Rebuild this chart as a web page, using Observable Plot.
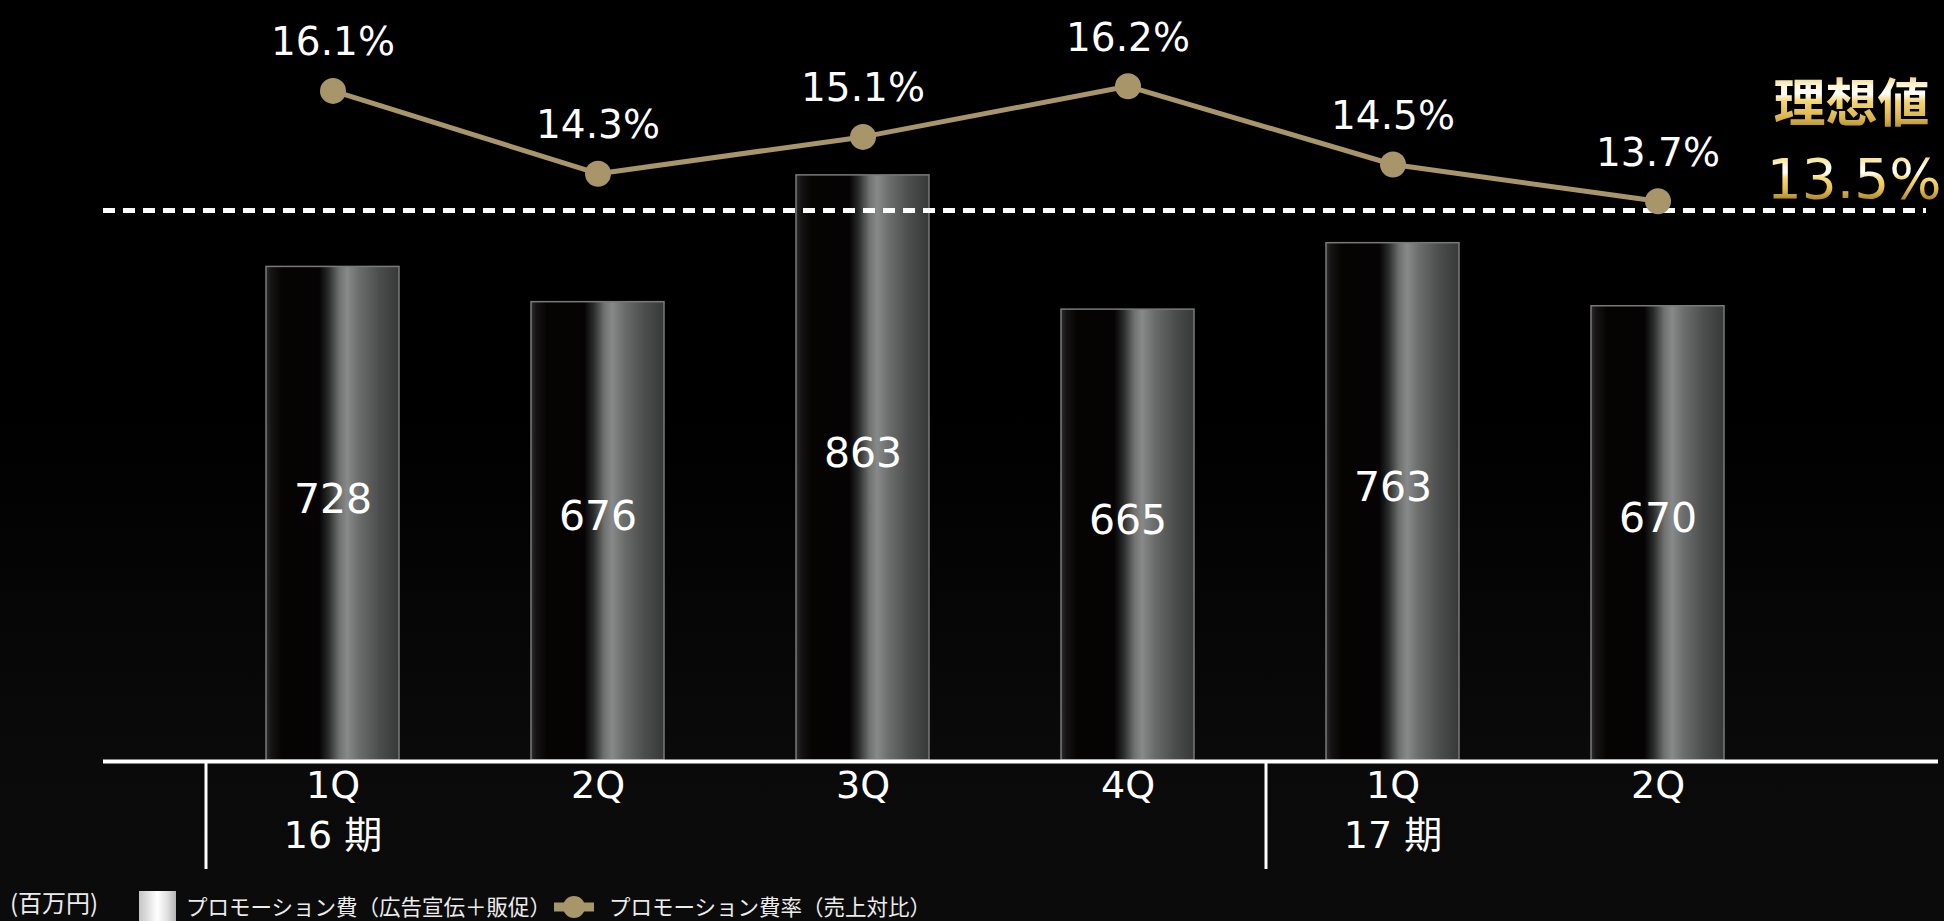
<!DOCTYPE html>
<html>
<head>
<meta charset="utf-8">
<script src="https://cdn.jsdelivr.net/npm/d3@7"></script>
<script src="https://cdn.jsdelivr.net/npm/@observablehq/plot@0.6"></script>
<style>
  html, body { margin: 0; padding: 0; background: #000; }
  #wrap { position: relative; width: 1944px; height: 921px; overflow: hidden;
    background: linear-gradient(to bottom, #000 0%, #000 45%, #0a0a0a 82%, #0b0b0b 100%); }
  #wrap > svg { position: absolute; left: 0; top: 0; }
  .lg { position: absolute; color: #ececec; font-family: "Noto Sans CJK JP", sans-serif; white-space: nowrap; line-height: 1.1; }
</style>
</head>
<body>
<div id="wrap"></div>
<script>
// ---- data ----
const quarters = ["1Q", "2Q", "3Q", "4Q", "1Q", "2Q"];
const periods = ["16 期", "16 期", "16 期", "16 期", "17 期", "17 期"];
const promoCost = [728, 676, 863, 665, 763, 670];       // 百万円
const promoRate = [16.1, 14.3, 15.1, 16.2, 14.5, 13.7]; // %
const idealRate = 13.5;
const idealLabel = "理想値";
const unitLabel = "(百万円)";
const seriesNames = ["プロモーション費（広告宣伝＋販促）", "プロモーション費率（売上対比）"];

const data = quarters.map((q, i) => ({
  id: periods[i] + "-" + q, quarter: q, period: periods[i],
  cost: promoCost[i], rate: promoRate[i]
}));
const periodStarts = d3.groups(data, d => d.period).map(([p, rows]) => ({period: p, id: rows[0].id}));
const ids = data.map(d => d.id);

// ---- layout ----
const W = 1944, H = 890, mTop = 82, mBottom = 130, mLeft = 103, mRight = 6;
const xScale = {type: "band", domain: ids, range: [199.5, 1789.5], paddingInner: 0.5, paddingOuter: 0.25, axis: null};
const numFont = "DejaVu Sans, Noto Sans CJK JP, sans-serif";
const gold = "#a8956a";

const wrap = document.getElementById("wrap");

// ---- bars plot ----
const svg1 = Plot.plot({
  width: W, height: H, marginTop: mTop, marginBottom: mBottom, marginLeft: mLeft, marginRight: mRight,
  style: {background: "transparent", color: "white", overflow: "visible"},
  x: xScale,
  y: {domain: [0, 1000], axis: null},
  marks: [
    Plot.barY(data, {x: "id", y: "cost", fill: "url(#barGrad)", stroke: "#7a7a7a", strokeWidth: 1.5}),
    Plot.text(data, {x: "id", y: d => d.cost / 2, text: d => String(d.cost), fill: "white",
      fontSize: 41, fontFamily: numFont, dy: -14}),
    Plot.ruleY([0], {stroke: "white", strokeWidth: 4, dy: 1}),
    Plot.ruleX(periodStarts, {x: "id", dx: -127, stroke: "white", strokeWidth: 3, insetTop: 681, insetBottom: -109}),
    Plot.text(data, {x: "id", frameAnchor: "bottom", text: "quarter", dy: 37, fill: "white",
      fontSize: 38, fontFamily: numFont}),
    Plot.text(periodStarts, {x: "id", frameAnchor: "bottom", text: "period", dy: 87, fill: "white",
      fontSize: 38, fontFamily: numFont})
  ]
});
wrap.appendChild(svg1);

const defs1 = d3.select(svg1).insert("defs", ":first-child");
const bg = defs1.append("linearGradient").attr("id", "barGrad").attr("x1", 0).attr("y1", 0).attr("x2", 1).attr("y2", 0);
[[0, "#2e2e2e"], [0.04, "#151313"], [0.12, "#060303"], [0.40, "#050303"], [0.47, "#2a2b2b"],
 [0.55, "#6e716f"], [0.61, "#878a88"], [0.70, "#6a6d6b"], [0.85, "#4b4e4c"], [1, "#363937"]]
  .forEach(([o, c]) => bg.append("stop").attr("offset", o).attr("stop-color", c));

// ---- rate plot (overlay, own y scale) ----
const svg2 = Plot.plot({
  width: W, height: H, marginTop: mTop, marginBottom: mBottom, marginLeft: mLeft, marginRight: mRight,
  style: {background: "transparent", color: "white", overflow: "visible"},
  x: xScale,
  y: {domain: [1.5435, 16.2826], axis: null},
  marks: [
    Plot.ruleY([idealRate], {stroke: "white", strokeWidth: 5, strokeDasharray: "12,8", insetRight: 12}),
    Plot.line(data, {x: "id", y: "rate", stroke: gold, strokeWidth: 5}),
    Plot.dot(data, {x: "id", y: "rate", r: 13, fill: gold, stroke: "none"}),
    Plot.text(data, {x: "id", y: "rate", text: d => d.rate.toFixed(1) + "%", dy: -48, fill: "white",
      fontSize: 39, fontFamily: numFont}),
    Plot.text([idealRate], {y: d => d, frameAnchor: "right", textAnchor: "end", dx: 3, dy: -30,
      text: d => d.toFixed(1) + "%", fill: "url(#goldNum)", fontSize: 55, fontFamily: numFont}),
    Plot.text([idealRate], {y: d => d, frameAnchor: "right", textAnchor: "end", dx: -9, dy: -105,
      text: () => idealLabel, fill: "url(#goldJp)", fontSize: 52, fontWeight: "bold",
      fontFamily: "Noto Sans CJK JP, sans-serif"})
  ]
});
wrap.appendChild(svg2);

const defs2 = d3.select(svg2).insert("defs", ":first-child");
const gn = defs2.append("linearGradient").attr("id", "goldNum").attr("x1", 0).attr("y1", 0).attr("x2", 0).attr("y2", 1);
[[0.15, "#f5e08a"], [0.32, "#fffbe6"], [0.40, "#ffffff"], [0.48, "#f7dc78"], [0.65, "#e6c052"], [0.80, "#b48e30"]]
  .forEach(([o, c]) => gn.append("stop").attr("offset", o).attr("stop-color", c));
const gj = defs2.append("linearGradient").attr("id", "goldJp").attr("x1", 0).attr("y1", 0).attr("x2", 0).attr("y2", 1);
[[0.1, "#e0bc52"], [0.32, "#fff7d8"], [0.42, "#ffffff"], [0.52, "#f3d678"], [0.75, "#dab44a"], [0.92, "#a4802a"]]
  .forEach(([o, c]) => gj.append("stop").attr("offset", o).attr("stop-color", c));

// ---- legend (below the SVG) ----
function addLg(txt, left, top, size) {
  const s = document.createElement("div");
  s.className = "lg";
  s.style.left = left + "px"; s.style.top = top + "px"; s.style.fontSize = size + "px";
  s.textContent = txt;
  wrap.appendChild(s);
  return s;
}
addLg(unitLabel, 10, 889, 24);
const sw = document.createElement("div");
sw.style.cssText = "position:absolute;left:139px;top:891px;width:37px;height:30px;background:linear-gradient(90deg,#c4c4c4 0%,#e8e8e8 30%,#ffffff 50%,#e2e2e2 75%,#b4b4b4 100%);";
wrap.appendChild(sw);
addLg(seriesNames[0], 186, 894, 21.5);
const ic = d3.select(wrap).append("svg").style("position", "absolute").style("left", "554px").style("top", "894px")
  .attr("width", 40).attr("height", 26);
ic.append("line").attr("x1", 0).attr("x2", 40).attr("y1", 13).attr("y2", 13).attr("stroke", gold).attr("stroke-width", 9);
ic.append("circle").attr("cx", 20).attr("cy", 13).attr("r", 11).attr("fill", gold);
addLg(seriesNames[1], 609, 894, 21.5);
</script>
</body>
</html>
